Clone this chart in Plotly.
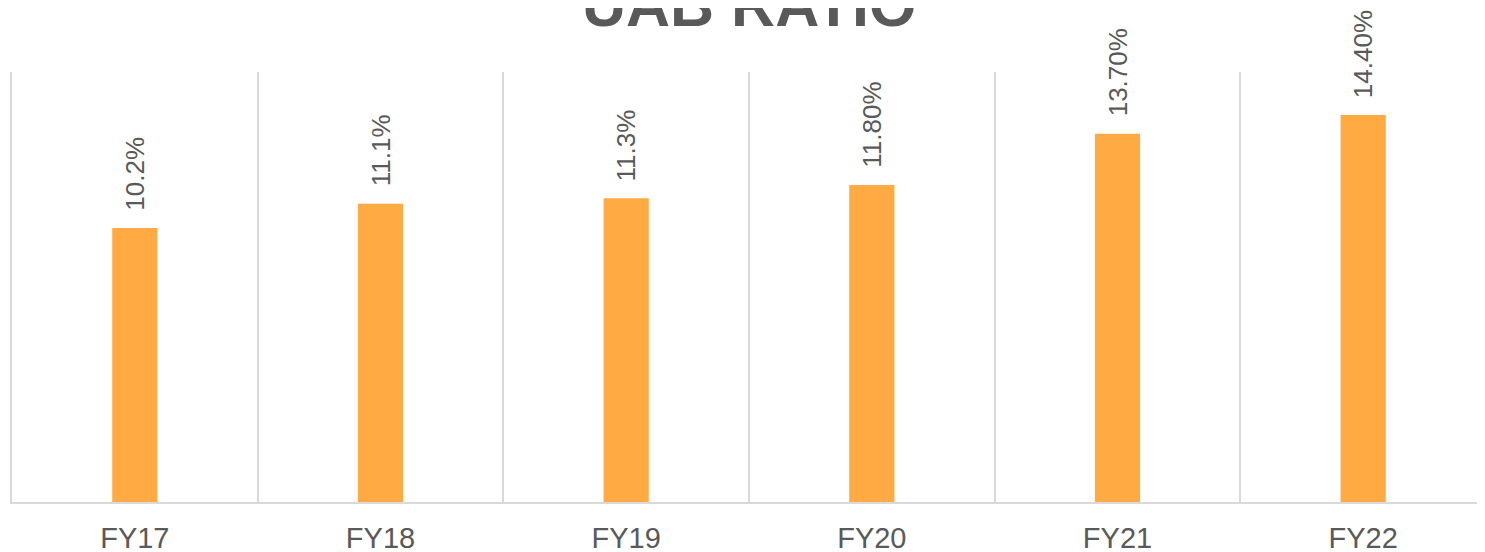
import plotly.graph_objects as go

categories = ["FY17", "FY18", "FY19", "FY20", "FY21", "FY22"]
values = [10.2, 11.1, 11.3, 11.8, 13.7, 14.4]
labels = ["10.2%", "11.1%", "11.3%", "11.80%", "13.70%", "14.40%"]

GRAY = "#595959"
GRID = "#D9D9D9"
BAR = "#FFAA42"

fig = go.Figure()
fig.add_trace(go.Bar(x=categories, y=values, width=0.184,
                     marker=dict(color=BAR, line=dict(width=0)),
                     hoverinfo="skip"))

for c, v, t in zip(categories, values, labels):
    fig.add_annotation(x=c, y=v, xref="x", yref="y", text=t, textangle=-90,
                       showarrow=False, xanchor="center", yanchor="bottom",
                       yshift=15, font=dict(family="Liberation Sans, Arial", size=26, color=GRAY))

# title (partly cut off at the top, as in the reference)
fig.add_annotation(x=0.5, y=1 + 67 / 430, xref="paper", yref="paper",
                   text="<b>UAB RATIO</b>", showarrow=False,
                   xanchor="center", yanchor="middle",
                   font=dict(family="Liberation Sans, Arial", size=61, color=GRAY))

fig.update_layout(
    width=1485, height=552,
    margin=dict(l=4, r=7, t=64, b=58, autoexpand=False),
    paper_bgcolor="white", plot_bgcolor="white",
    showlegend=False,
    xaxis=dict(type="category", tickson="boundaries", showgrid=True, gridcolor=GRID,
               gridwidth=1.5, showline=True, linecolor=GRID, linewidth=1.5,
               ticks="", ticklabelstandoff=9, automargin=False,
               tickfont=dict(family="Liberation Sans, Arial", size=29, color=GRAY)),
    yaxis=dict(range=[0, 16], showgrid=False, zeroline=False, showticklabels=False,
               automargin=False,
               showline=True, mirror=True, linecolor=GRID, linewidth=1.5),
    bargap=0.816,
)

fig.write_html("out.html")
